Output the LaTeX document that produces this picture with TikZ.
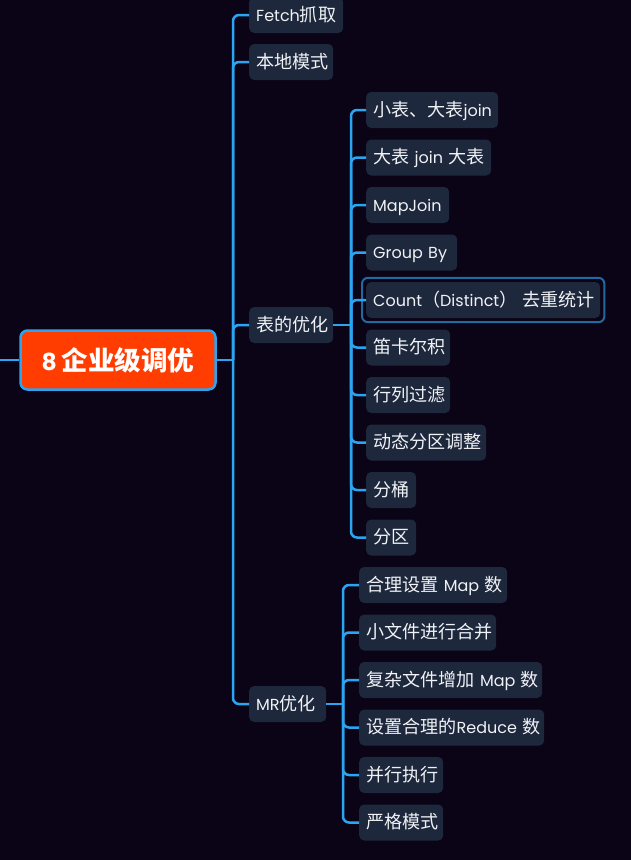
\documentclass[tikz,border=0pt]{standalone}
\usepackage{fontspec}
\setmainfont{Poppins}
\newfontfamily\cjk[Scale=1.13]{Noto Sans CJK SC}
\newcommand\zh[1]{{\cjk #1}}
\usetikzlibrary{fit}
\definecolor{bgc}{HTML}{0A0416}
\definecolor{nodebg}{HTML}{1E283C}
\definecolor{linkc}{HTML}{2BA4F2}
\definecolor{txt}{HTML}{F0F2F5}
\definecolor{rootc}{HTML}{FF3D00}
\definecolor{selc}{HTML}{1F6AA0}
\begin{document}
\begin{tikzpicture}[x=1pt,y=-1pt,
  leaf/.style={anchor=west, fill=nodebg, rounded corners=5pt, text=txt,
    font=\fontsize{16}{19}\selectfont, minimum height=36pt, inner xsep=7pt, inner ysep=0pt,
    align=left, text height=13pt, text depth=1pt, text width=#1},
  link/.style={draw=linkc, line width=2.5pt, rounded corners=6pt},
  rootbox/.style={fill=rootc, draw=linkc, line width=2.5pt, rounded corners=7pt, text=white,
    font=\fontsize{23.5}{28}\selectfont\bfseries, minimum width=195pt, minimum height=59pt}
]
\fill[bgc] (0,0) rectangle (631,860);
\useasboundingbox (0,0) rectangle (631,860);

% root
\node[rootbox] (root) at (118,360) {8 \zh{企业级调优}};

% level 1
\node[leaf=80pt] (f1) at (249,15) {\mbox{Fetch\zh{抓取}}};
\node[leaf=70pt] (f2) at (249,62) {\mbox{\zh{本地模式}}};
\node[leaf=70pt] (f3) at (249,325) {\mbox{\zh{表的优化}}};
\node[leaf=63pt] (f4) at (249,704) {\mbox{MR\zh{优化}}};

% table optimisation children
\node[leaf=118pt] (t1) at (366,110) {\mbox{\zh{小表、大表}join}};
\node[leaf=111pt] (t2) at (366,157.5) {\mbox{\zh{大表} join \zh{大表}}};
\node[leaf=69pt] (t3) at (366,205) {\mbox{MapJoin}};
\node[leaf=77pt] (t4) at (366,252.5) {\mbox{Group By}};
\node[leaf=220pt] (t5) at (366,300) {\mbox{Count\zh{（}Distinct\zh{）} \zh{去重统计}}};
\node[leaf=70pt] (t6) at (366,347.5) {\mbox{\zh{笛卡尔积}}};
\node[leaf=70pt] (t7) at (366,395) {\mbox{\zh{行列过滤}}};
\node[leaf=106pt] (t8) at (366,442.5) {\mbox{\zh{动态分区调整}}};
\node[leaf=36pt] (t9) at (366,490) {\mbox{\zh{分桶}}};
\node[leaf=36pt] (t10) at (366,537.5) {\mbox{\zh{分区}}};
\node[draw=selc, line width=2pt, rounded corners=6pt, inner sep=4pt, fit=(t5)] (sel) {};

% MR children
\node[leaf=134pt] (m1) at (359,585) {\mbox{\zh{合理设置} Map \zh{数}}};
\node[leaf=123pt] (m2) at (359,632.5) {\mbox{\zh{小文件进行合并}}};
\node[leaf=169pt] (m3) at (359,680) {\mbox{\zh{复杂文件增加} Map \zh{数}}};
\node[leaf=171pt] (m4) at (359,727.5) {\mbox{\zh{设置合理的}Reduce \zh{数}}};
\node[leaf=70pt] (m5) at (359,775) {\mbox{\zh{并行执行}}};
\node[leaf=70pt] (m6) at (359,822.5) {\mbox{\zh{严格模式}}};

% connectors
\coordinate (lin) at (0,360);
\coordinate (j0) at (233,360);
\coordinate (j1) at (351,325);
\coordinate (j2) at (343,704);
\draw[link] (lin) -- (root.west);
\draw[link] (root.east) -- (j0);
\foreach \n in {f1,f2,f3,f4} \draw[link] (j0) |- (\n.west);
\draw[link] (f3.east) -- (j1);
\foreach \n in {t1,t2,t3,t4,t5,t6,t7,t8,t9,t10} \draw[link] (j1) |- (\n.west);
\draw[link] (f4.east) -- (j2);
\foreach \n in {m1,m2,m3,m4,m5,m6} \draw[link] (j2) |- (\n.west);
\end{tikzpicture}
\end{document}
